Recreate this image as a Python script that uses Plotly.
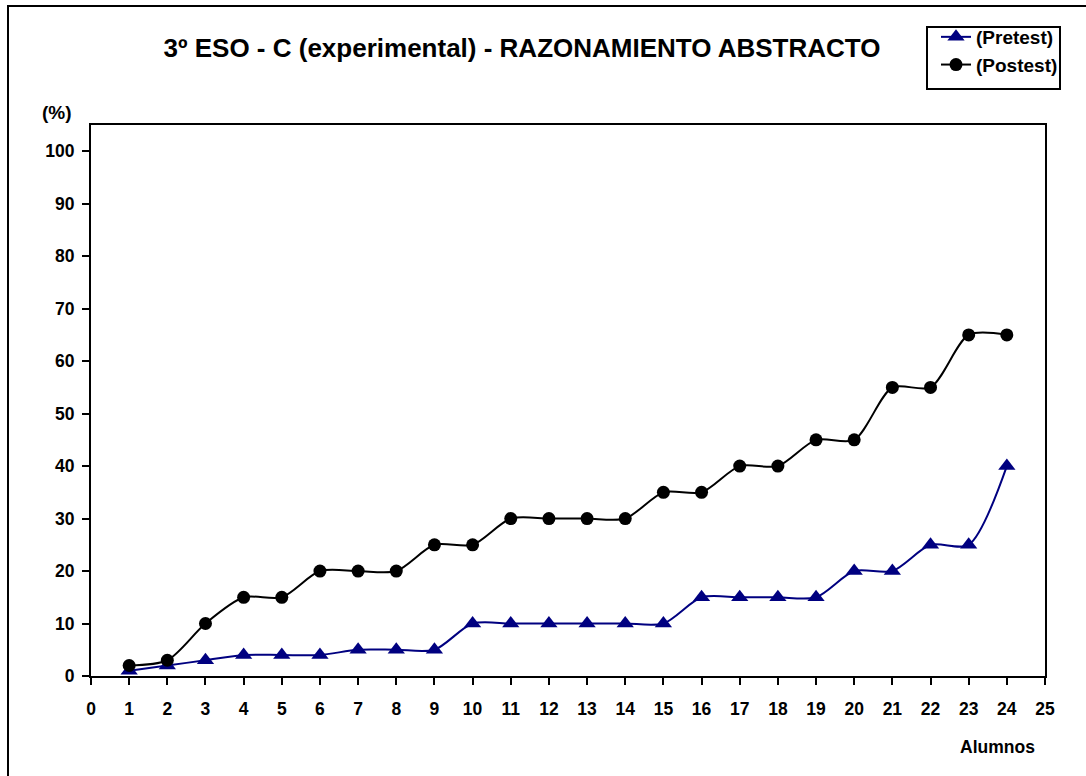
import plotly.graph_objects as go

alumnos = list(range(1, 25))
pretest = [1, 2, 3, 4, 4, 4, 5, 5, 5, 10, 10, 10, 10, 10, 10, 15, 15, 15, 15, 20, 20, 25, 25, 40]
postest = [2, 3, 10, 15, 15, 20, 20, 20, 25, 25, 30, 30, 30, 30, 35, 35, 40, 40, 45, 45, 55, 55, 65, 65]
x_ticks = list(range(0, 26))
y_ticks = list(range(0, 101, 10))

FONT = "Liberation Sans, Arial, sans-serif"
W, H = 1086, 776
L, R, T, B = 91, 41, 125, 100
pw, ph = W - L - R, H - T - B


def px(xp):
    return (xp - L) / pw


def py(yp):
    return (H - B - yp) / ph


fig = go.Figure()
fig.add_trace(go.Scatter(
    x=alumnos, y=pretest, name="(Pretest)", mode="lines+markers",
    line=dict(color="#000080", width=2, shape="spline", smoothing=0.8),
    marker=dict(symbol="triangle-up", size=15, color="#000080"),
))
fig.add_trace(go.Scatter(
    x=alumnos, y=postest, name="(Postest)", mode="lines+markers",
    line=dict(color="black", width=2, shape="spline", smoothing=0.8),
    marker=dict(symbol="circle", size=13, color="black"),
))

axis_common = dict(
    showgrid=False, zeroline=False, showline=True, linecolor="black",
    linewidth=2, mirror=True, ticks="outside", ticklen=7, tickwidth=2,
    tickcolor="black",
    tickfont=dict(family=FONT, size=17.5, color="black", weight="bold"),
)

fig.update_layout(
    width=W, height=H,
    margin=dict(l=L, r=R, t=T, b=B, pad=0),
    paper_bgcolor="white", plot_bgcolor="white",
    font=dict(family=FONT, color="black"),
    title=dict(
        text="3º ESO - C (experimental) - RAZONAMIENTO ABSTRACTO",
        font=dict(family=FONT, size=26, color="black", weight="bold"),
        xref="container", yref="container",
        x=522 / W, xanchor="center", y=1 - 48 / H, yanchor="middle",
    ),
    xaxis=dict(range=[0, 25], tickvals=x_ticks, ticklabelstandoff=9, **axis_common),
    yaxis=dict(range=[0, 105], tickvals=y_ticks, ticklabelstandoff=4, **axis_common),
    showlegend=True,
    legend=dict(
        x=px(936), y=py(18), xanchor="left", yanchor="top",
        bgcolor="rgba(0,0,0,0)", borderwidth=0,
        font=dict(family=FONT, size=19, color="black", weight="bold"),
        itemwidth=30, tracegroupgap=0,
    ),
    annotations=[
        dict(text="(%)", x=px(57), y=py(112), xref="paper", yref="paper",
             showarrow=False, xanchor="center", yanchor="middle",
             font=dict(family=FONT, size=19, color="black", weight="bold")),
        dict(text="Alumnos", x=px(997), y=py(747), xref="paper", yref="paper",
             showarrow=False, xanchor="center", yanchor="middle",
             font=dict(family=FONT, size=17.5, color="black", weight="bold")),
    ],
    shapes=[
        # outer chart frame
        dict(type="rect", xref="paper", yref="paper",
             x0=px(8), y0=py(790), x1=px(1100), y1=py(6),
             line=dict(color="black", width=2), fillcolor="rgba(0,0,0,0)",
             layer="below"),
        # legend box
        dict(type="rect", xref="paper", yref="paper",
             x0=px(927), y0=py(89), x1=px(1060), y1=py(27),
             line=dict(color="black", width=2), fillcolor="white",
             layer="below"),
    ],
)

fig.write_html("out.html")
